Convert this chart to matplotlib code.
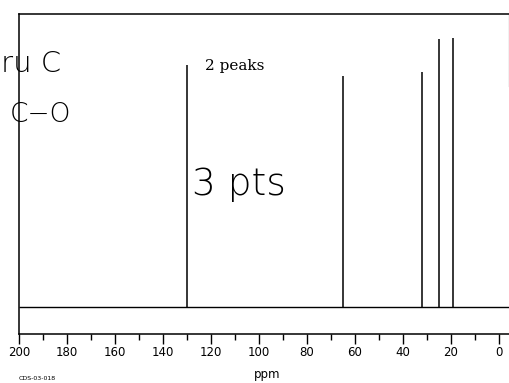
import numpy as np
import matplotlib.pyplot as plt

# ---- data ----
shifts = [130.0, 65.0, 32.0, 25.0, 19.0]       # ppm
heights = [90.0, 86.0, 87.4, 99.6, 100.0]      # relative intensity
major_ticks = list(range(0, 201, 20))
minor_ticks = list(range(0, 201, 10))

W, H = 509, 383
fig = plt.figure(figsize=(W / 100, H / 100), dpi=100)
fig.patch.set_facecolor('white')

# axes box: left 19px, right beyond the edge, top 14px, bottom axis line 334px
ax = fig.add_axes([19 / W, (H - 334) / H, 1 - 19 / W + 0.002, (334 - 14) / H])
ax.set_xlim(200, -4.6)
ax.set_ylim(-10.0, 108.9)

ax.hlines(0, 200, -4.6, color='black', lw=1.0)
ax.vlines(shifts, 0, heights, color='black', lw=1.1)

for s in ['top', 'left', 'bottom']:
    ax.spines[s].set_linewidth(1.1)
ax.spines['right'].set_visible(False)
# short right border stub near top
ax.plot([-4.0, -4.0], [108.9, 82.0], color='black', lw=0.8, clip_on=False)

ax.set_xticks(major_ticks)
ax.set_xticks(minor_ticks, minor=True)
ax.set_xticklabels([str(t) for t in major_ticks], fontsize=8.5)
ax.tick_params(axis='x', which='major', direction='out', length=7, width=1.0, pad=2)
ax.tick_params(axis='x', which='minor', direction='out', length=4, width=1.0)
ax.set_yticks([])

# printed annotation
fig.text(205 / W, 1 - 70 / H, '2 peaks', fontsize=11, family='DejaVu Serif')

# handwritten notes
hand = dict(family='DejaVu Sans', fontweight='light', color='black')
fig.text(1 / W, 1 - 72 / H, 'ru C', fontsize=21, **hand)
fig.text(10 / W, 1 - 122 / H, 'C−O', fontsize=19, **hand)
fig.text(192 / W, 1 - 195 / H, '3 pts', fontsize=27, **hand)

# labels
fig.text(267 / W, 1 - 378 / H, 'ppm', fontsize=8.5, ha='center')
fig.text(19 / W, 1 - 380 / H, 'CDS-03-018', fontsize=4.5)

fig.savefig('out.png', dpi=100)
